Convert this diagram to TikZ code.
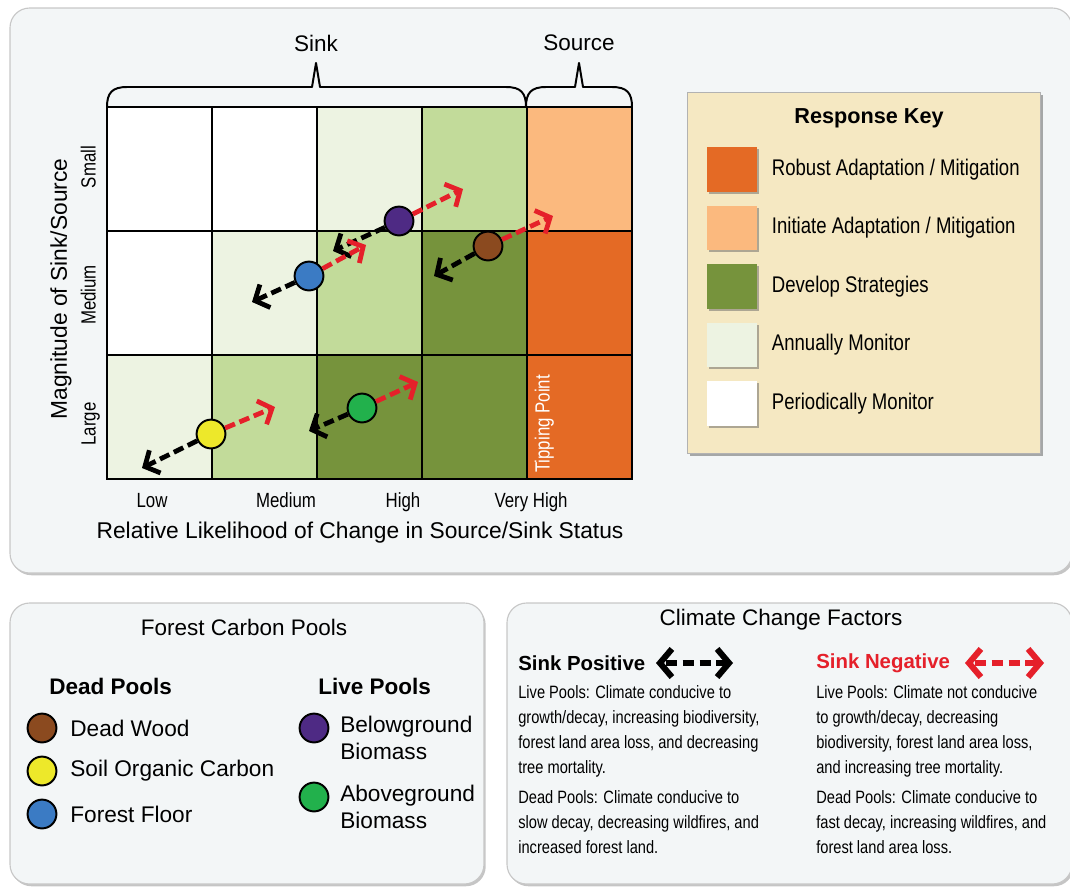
\documentclass[tikz,border=0pt]{standalone}
\usepackage{fontspec}
\setmainfont{Liberation Sans}
\newfontfamily\narrowfont[FakeStretch=0.82]{Liberation Sans}
\usetikzlibrary{positioning, calc, arrows.meta, shadows}

\definecolor{panelbg}{HTML}{F3F6F7}
\definecolor{keybg}{HTML}{F5E8C2}
\definecolor{annual}{HTML}{EDF3E2}
\definecolor{midgreen}{HTML}{C2DB9A}
\definecolor{develop}{HTML}{76933C}
\definecolor{initiate}{HTML}{FBB97E}
\definecolor{robust}{HTML}{E46A25}
\definecolor{deadwood}{HTML}{8B4A1F}
\definecolor{soilcarbon}{HTML}{EDE82A}
\definecolor{forestfloor}{HTML}{3B7BC4}
\definecolor{belowgrnd}{HTML}{4E2A84}
\definecolor{abovegrnd}{HTML}{22B14C}
\definecolor{sinkred}{HTML}{E5202A}

\begin{document}
\begin{tikzpicture}[x=0.025cm, y=-0.025cm,
  panel/.style={draw=black!22, line width=0.8pt, fill=panelbg, rounded corners=14pt,
    drop shadow={shadow xshift=1.2pt, shadow yshift=-1.6pt, fill=black!45}},
  cellline/.style={line width=1.6pt},
  brace/.style={line width=1.4pt, line join=round},
  pool/.style={circle, draw, line width=1.4pt, minimum size=20.5pt, inner sep=0pt},
  sinkpos/.style={line width=3.4pt, dash pattern=on 7.5pt off 3.5pt,
    -{Straight Barb[length=8pt, width=18pt]}},
  sinkneg/.style={sinkpos, sinkred},
  factorpos/.style={line width=4.3pt, dash pattern=on 8pt off 4pt, dash phase=10pt,
    {Straight Barb[length=8.5pt, width=20pt]}-{Straight Barb[length=8.5pt, width=20pt]}},
  factorneg/.style={factorpos, sinkred},
  swatch/.style={minimum width=36pt, minimum height=31.5pt, inner sep=0pt,
    drop shadow={shadow xshift=1.5pt, shadow yshift=-1.5pt, fill=black!60}},
  title/.style={font=\fontsize{16}{19}\selectfont},
  header/.style={font=\bfseries\fontsize{16}{19}\selectfont, anchor=west, inner sep=0pt},
  tick/.style={font=\narrowfont\fontsize{14.6}{17}\selectfont, text height=0.72em, text depth=0.2em},
  keytext/.style={font=\narrowfont\fontsize{16.1}{19}\selectfont, anchor=west, inner sep=0pt},
  pooltext/.style={font=\fontsize{16.1}{18.8}\selectfont, anchor=west, inner sep=0pt, align=left},
  factortext/.style={font=\narrowfont\fontsize{12.7}{17.8}\selectfont, anchor=north west,
    inner sep=0pt, align=left}]
\useasboundingbox (0,0) rectangle (1070,888);

\draw[panel] (10,8) rectangle (1072,573);
\draw[panel] (10,603) rectangle (484,884);
\draw[panel] (507,603) rectangle (1072,884);

\foreach \c/\r/\clr in {0/0/white, 1/0/white, 2/0/annual, 3/0/midgreen, 4/0/initiate,
  0/1/white, 1/1/annual, 2/1/midgreen, 3/1/develop, 4/1/robust,
  0/2/annual, 1/2/midgreen, 2/2/develop, 3/2/develop, 4/2/robust}
  \fill[\clr] ({107+105*\c},{107+124*\r}) rectangle ++(105,124);
\foreach \c in {1,...,4} \draw[cellline] ({107+105*\c},107) -- ++(0,372);
\foreach \r in {1,2} \draw[cellline] (107,{107+124*\r}) -- ++(525,0);
\draw[cellline] (107,107) rectangle (632,479);

\node[white, tick, rotate=90] (tipping) at (546,424) {Tipping Point};

\node[title] (sink) at (316,43) {Sink};
\node[title] (source) at (579,43) {Source};
\coordinate (sinktip) at (316,63);
\coordinate (sourcetip) at (579,63);
\draw[brace] (107,107) .. controls (107,93) and (112,87) .. (127,87) -- (312,87)
  -- (sinktip) -- (320,87) -- (506,87) .. controls (521,87) and (526,93) .. (526,107);
\draw[brace] (526,107) .. controls (526,93) and (531,87) .. (546,87) -- (575,87)
  -- (sourcetip) -- (583,87) -- (612,87) .. controls (627,87) and (632,93) .. (632,107);

\node[font=\fontsize{16.2}{19}\selectfont, rotate=90] (ylabel) at (61,289) {Magnitude of Sink/Source};
\node[tick, rotate=90] (ysmall) at (92,167) {Small};
\node[tick, rotate=90] (ymedium) at (92,295) {Medium};
\node[tick, rotate=90] (ylarge) at (92,424) {Large};
\node[tick] (xlow) at (152,504) {Low};
\node[tick] (xmedium) at (286,504) {Medium};
\node[tick] (xhigh) at (403,504) {High};
\node[tick] (xveryhigh) at (531,504) {Very High};
\node[font=\fontsize{16.2}{19}\selectfont] (xlabel) at (360,533) {Relative Likelihood of Change in Source/Sink Status};

\node[pool, fill=belowgrnd] (below) at (399,221) {};
\node[pool, fill=forestfloor] (floor) at (309,276) {};
\node[pool, fill=deadwood] (wood) at (488,246) {};
\node[pool, fill=soilcarbon] (soil) at (211,434) {};
\node[pool, fill=abovegrnd] (above) at (362,408) {};

\coordinate (belowlo) at (333,251);
\coordinate (belowhi) at (463,189);
\coordinate (floorlo) at (252,302);
\coordinate (floorhi) at (366,245);
\coordinate (woodlo) at (434,276);
\coordinate (woodhi) at (553,216);
\coordinate (soillo) at (142,468);
\coordinate (soilhi) at (275,407);
\coordinate (abovelo) at (309,431);
\coordinate (abovehi) at (418,382);

\foreach \p in {below, floor, wood, soil, above} {
  \draw[sinkpos] (\p) -- (\p lo);
  \draw[sinkneg] (\p) -- (\p hi);
}

\draw[draw=black!30, line width=0.6pt, fill=keybg,
  drop shadow={shadow xshift=2pt, shadow yshift=-2pt, fill=black!65}] (687,92) rectangle (1040,453);
\node[font=\bfseries\fontsize{15.4}{18}\selectfont] (keytitle) at (869,118) {Response Key};
\foreach \clr/\txt [count=\i from 0] in {robust/{Robust Adaptation / Mitigation},
  initiate/{Initiate Adaptation / Mitigation}, develop/{Develop Strategies},
  annual/{Annually Monitor}, white/{Periodically Monitor}} {
  \node[swatch, fill=\clr] (sw\i) at (732,{169.5+58.5*\i}) {};
  \node[keytext, right=10pt of sw\i] (kt\i) {\txt};
}

\node[title] (pooltitle) at (244,627) {Forest Carbon Pools};
\node[header] (deadhdr) at (49,686) {Dead Pools};
\node[header] (livehdr) at (318,686) {Live Pools};
\node[pool, fill=deadwood] (keywood) at (42,728) {};
\node[pool, fill=soilcarbon] (keysoil) at (42,771) {};
\node[pool, fill=forestfloor] (keyfloor) at (42,814) {};
\node[pool, fill=belowgrnd] (keybelow) at (314,728) {};
\node[pool, fill=abovegrnd] (keyabove) at (314,797) {};
\node[pooltext, right=9pt of keywood] {Dead Wood};
\node[pooltext, right=9pt of keysoil] {Soil Organic Carbon};
\node[pooltext, right=9pt of keyfloor] {Forest Floor};
\node[pooltext, anchor=north west] at (340,716) {Belowground\\Biomass};
\node[pooltext, anchor=north west] at (340,785) {Aboveground\\Biomass};

\node[title] (factortitle) at (781,620) {Climate Change Factors};
\node[header, font=\bfseries\fontsize{14.5}{17}\selectfont] (poshdr) at (518,663) {Sink Positive};
\node[header, font=\bfseries\fontsize{14.5}{17}\selectfont, sinkred] (neghdr) at (816,663) {Sink Negative};
\coordinate (posleft) at (656,663);
\coordinate (posright) at (733,663);
\coordinate (negleft) at (965,663);
\coordinate (negright) at (1044,663);
\draw[factorpos] (posleft) -- (posright);
\draw[factorneg] (negleft) -- (negright);
\node[factortext] (posnote) at (518,685) {Live Pools: Climate conducive to\\
  growth/decay, increasing biodiversity,\\ forest land area loss, and decreasing\\
  tree mortality.\\[3.5pt] Dead Pools: Climate conducive to\\
  slow decay, decreasing wildfires, and\\ increased forest land.};
\node[factortext] (negnote) at (816,685) {Live Pools: Climate not conducive\\
  to growth/decay, decreasing\\ biodiversity, forest land area loss,\\
  and increasing tree mortality.\\[3.5pt] Dead Pools: Climate conducive to\\
  fast decay, increasing wildfires, and\\ forest land area loss.};
\end{tikzpicture}
\end{document}
